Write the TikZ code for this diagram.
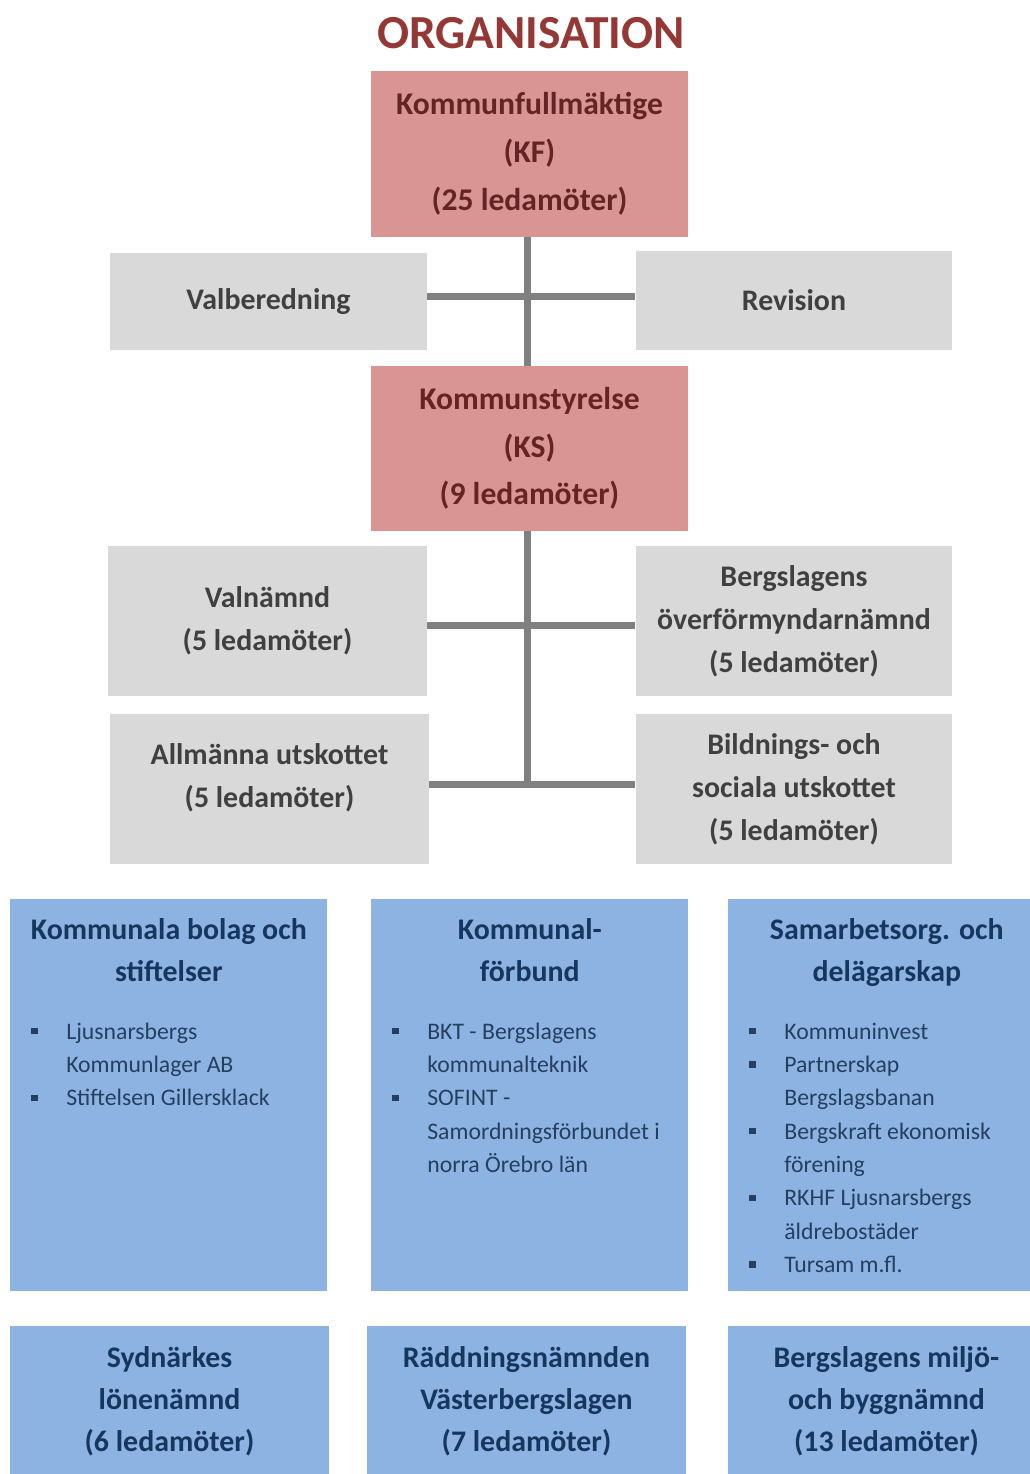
\documentclass[tikz,border=0pt]{standalone}
\usepackage{fontspec}
\setmainfont{Carlito}
\usepackage{xcolor}
\usepackage{tikz}

\definecolor{titleC}{HTML}{953735}
\definecolor{redF}{HTML}{D99594}
\definecolor{redT}{HTML}{632423}
\definecolor{grayF}{HTML}{D9D9D9}
\definecolor{grayT}{HTML}{404040}
\definecolor{blueF}{HTML}{8DB3E2}
\definecolor{blueT}{HTML}{17365D}
\definecolor{itemT}{HTML}{243F60}
\definecolor{lineC}{HTML}{808080}

\newcommand{\blt}[1]{\par\hangindent=1.12cm\hangafter=1\noindent\makebox[1.12cm][l]{\hspace{0.42cm}\raisebox{0.2em}{\rule{0.13cm}{0.13cm}}}#1}
\newcommand{\listhead}[1]{{\bfseries\fontsize{17}{23.8}\selectfont\centering\rule{0pt}{0.8cm}#1\par}\vspace{0.49cm}}

\tikzset{
  redbox/.style={fill=redF, text=redT, inner sep=0pt, minimum width=6.34cm, minimum height=3.32cm,
    align=center, font=\bfseries\fontsize{18}{27.2}\selectfont},
  graybox/.style={fill=grayF, text=grayT, inner sep=0pt, minimum width=6.34cm, minimum height=3cm,
    align=center, font=\bfseries\fontsize{17}{24.5}\selectfont},
  listbox/.style={fill=blueF, text=blueT, inner sep=0pt, anchor=north west},
  bluebox/.style={fill=blueF, text=blueT, inner sep=0pt, minimum width=6.34cm, minimum height=3cm,
    align=center, font=\bfseries\fontsize{17}{23.8}\selectfont},
  link/.style={draw=lineC, line width=0.14cm}
}

\begin{document}
\begin{tikzpicture}[x=0.02cm, y=-0.02cm]
  \useasboundingbox (0,0) rectangle (1030,1474);
  \clip (0,0) rectangle (1030,1474);
  \node[text=titleC, font=\bfseries\fontsize{27}{32}\selectfont] (title) at (531,33) {ORGANISATION};
  \node[redbox] (kf) at (529.5,154) {Kommunfullmäktige\\(KF)\\(25 ledamöter)};
  \node[graybox, minimum height=1.96cm] (valb) at (268.5,301.5) {Valberedning};
  \node[graybox, minimum height=1.98cm] (rev) at (794,300.5) {Revision};
  \node[redbox, minimum height=3.3cm] (ks) at (529.5,448.5) {Kommunstyrelse\\(KS)\\(9 ledamöter)};
  \node[graybox, minimum width=6.38cm] (valn) at (267.5,621) {Valnämnd\\(5 ledamöter)};
  \node[graybox] (overf) at (794,621) {Bergslagens\\överförmyndarnämnd\\(5 ledamöter)};
  \node[graybox, minimum width=6.38cm] (allm) at (269.5,789) {Allmänna utskottet\\(5 ledamöter)\rule[-0.55cm]{0pt}{0.1cm}};
  \node[graybox] (bild) at (794,789) {Bildnings- och\\sociala utskottet\\(5 ledamöter)};
  % connectors
  \coordinate (sp) at (527,0);
  \draw[link] (kf.south -| sp) -- (ks.north -| sp);
  \draw[link] (valb.east |- 0,296) -- (rev.west |- 0,296);
  \draw[link] (ks.south -| sp) -- (sp |- 0,784.5);
  \draw[link] (valn.east |- 0,625) -- (overf.west |- 0,625);
  \draw[link] (allm.east |- 0,784.5) -- (bild.west |- 0,784.5);
  % blue boxes
  \node[listbox] (bolag) at (10,899) {\begin{minipage}[t][7.84cm][t]{6.34cm}
    \listhead{Kommunala bolag och\\stiftelser}
    {\fontsize{13.5}{19}\selectfont\color{itemT}\raggedright
    \blt{Ljusnarsbergs\newline Kommunlager AB}
    \blt{Stiftelsen Gillersklack}\par}
  \end{minipage}};
  \node[listbox] (forb) at (371,899) {\begin{minipage}[t][7.84cm][t]{6.34cm}
    \listhead{Kommunal-\\förbund}
    {\fontsize{13.5}{19}\selectfont\color{itemT}\raggedright
    \blt{BKT - Bergslagens\newline kommunalteknik}
    \blt{SOFINT -\newline Samordningsförbundet i\newline norra Örebro län}\par}
  \end{minipage}};
  \node[listbox] (samarb) at (728,899) {\begin{minipage}[t][7.84cm][t]{6.34cm}
    \listhead{Samarbetsorg. och\\delägarskap}
    {\fontsize{13.5}{19}\selectfont\color{itemT}\raggedright
    \blt{Kommuninvest}
    \blt{Partnerskap\newline Bergslagsbanan}
    \blt{Bergskraft ekonomisk\newline förening}
    \blt{RKHF Ljusnarsbergs\newline äldrebostäder}
    \blt{Tursam m.fl.}\par}
  \end{minipage}};
  \node[bluebox, minimum width=6.38cm] (lon) at (169.5,1401) {Sydnärkes\\lönenämnd\\(6 ledamöter)};
  \node[bluebox, minimum width=6.38cm] (radd) at (526.5,1401) {Räddningsnämnden\\Västerbergslagen\\(7 ledamöter)};
  \node[bluebox] (miljo) at (886.5,1401) {Bergslagens miljö-\\och byggnämnd\\(13 ledamöter)};
\end{tikzpicture}
\end{document}
